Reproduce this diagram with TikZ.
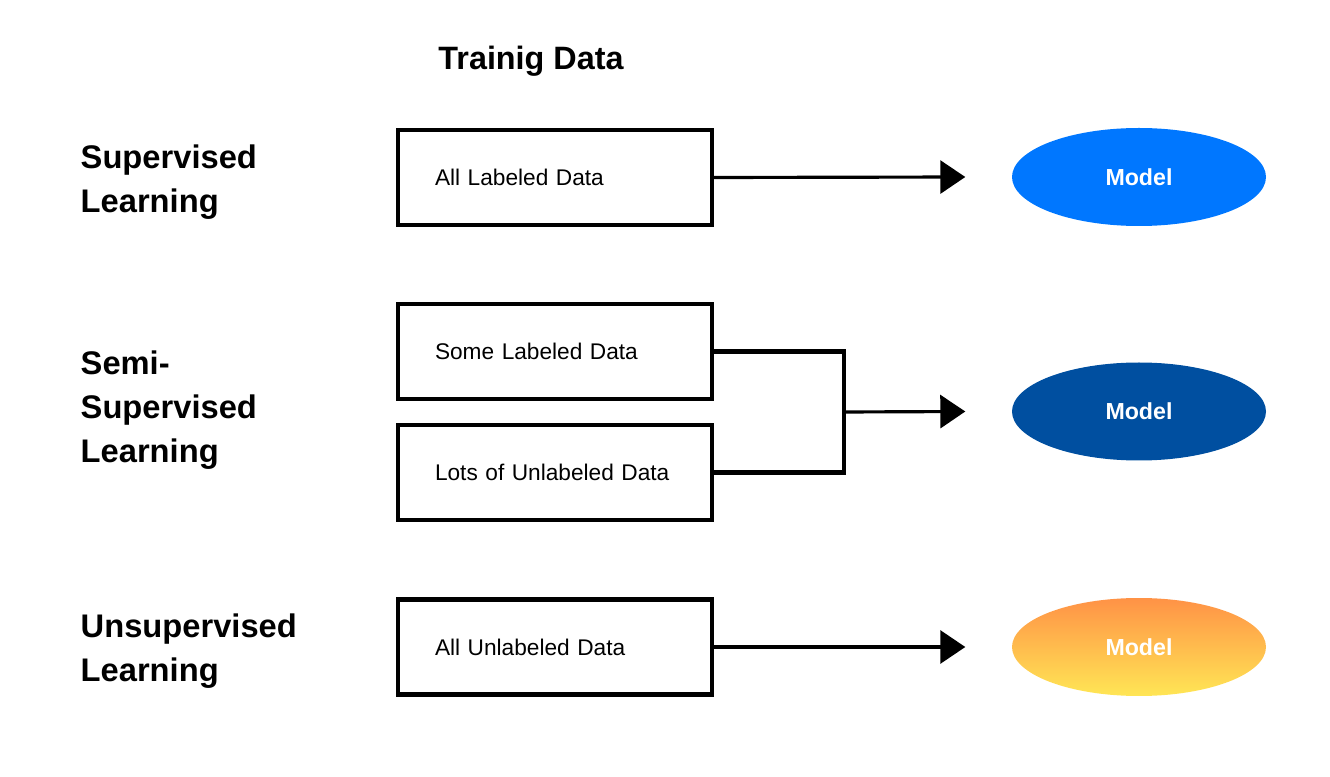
\documentclass[tikz,border=0pt]{standalone}
\usepackage{fontspec}
\setmainfont{Liberation Sans}
\usetikzlibrary{shapes.geometric,arrows.meta,calc}
\definecolor{supblue}{RGB}{0,119,255}
\definecolor{semiblue}{RGB}{0,79,160}
\definecolor{unsuptop}{RGB}{255,146,70}
\definecolor{unsupbot}{RGB}{255,230,85}
\tikzset{
  databox/.style={draw,line width=1.2pt,minimum height=0.95cm,text width=2.4cm,
    inner xsep=0.37cm,align=left,font=\fontsize{6.45}{7.5}\selectfont},
  model/.style={ellipse,minimum width=2.54cm,minimum height=0.98cm,inner sep=0pt,
    text=white,font=\fontsize{6.6}{8}\selectfont\bfseries},
  kind/.style={anchor=west,align=left,inner sep=0pt,font=\fontsize{9.3}{12.5}\selectfont\bfseries},
  feed/.style={-{Triangle[length=2.5mm,width=3.3mm]},line width=0.9pt},
}
\begin{document}
\begin{tikzpicture}
 \useasboundingbox (0,0) rectangle (13.3,7.76);
 \node[font=\fontsize{9.2}{11}\selectfont\bfseries] (title) at (5.31,7.15) {Trainig Data};
 %
 \node[kind] (sup) at (0.8,5.94) {Supervised\\Learning};
 \node[kind] (semi) at (0.8,3.66) {Semi-\\Supervised\\Learning};
 \node[kind] (unsup) at (0.8,1.25) {Unsupervised\\Learning};
 %
 \node[databox] (all) at (5.55,5.985) {All Labeled Data};
 \node[databox] (some) at (5.55,4.245) {Some Labeled Data};
 \node[databox] (lots) at (5.55,3.035) {Lots of Unlabeled Data};
 \node[databox] (none) at (5.55,1.29) {All Unlabeled Data};
 %
 \node[model,fill=supblue] (m1) at (11.39,5.99) {Model};
 \node[model,fill=semiblue] (m2) at (11.39,3.645) {Model};
 \node[model,top color=unsuptop,bottom color=unsupbot] (m3) at (11.39,1.29) {Model};
 %
 \draw[feed] (all.east) -- ([xshift=-0.46cm]m1.west);
 \draw[line width=1.2pt] (some.east) -- ++(1.3,0) coordinate (join) |- (lots.east);
 \coordinate (mid) at ($(join)!0.5!(join |- lots.east)$);
 \draw[feed] (mid) -- ([xshift=-0.46cm]m2.west);
 \draw[feed] (none.east) -- ([xshift=-0.46cm]m3.west);
\end{tikzpicture}
\end{document}
